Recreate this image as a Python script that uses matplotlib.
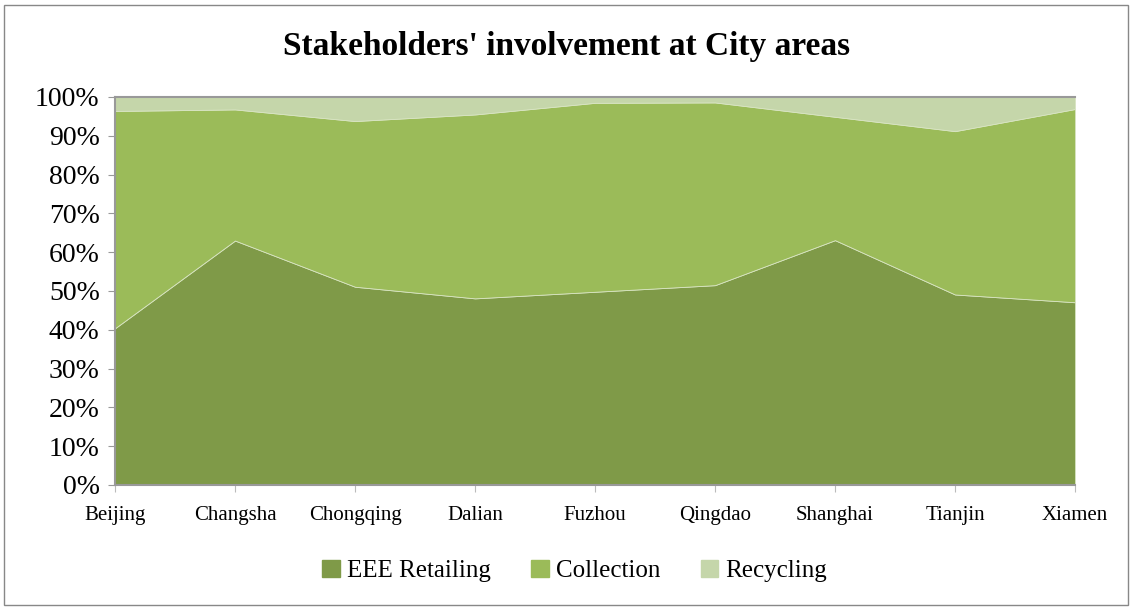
import matplotlib.pyplot as plt
import matplotlib.patches as mpatches
import numpy as np

cities = ['Beijing', 'Changsha', 'Chongqing', 'Dalian', 'Fuzhou',
          'Qingdao', 'Shanghai', 'Tianjin', 'Xiamen']
retailing = [40.4, 63.0, 51.1, 48.1, 49.8, 51.5, 63.1, 49.1, 47.1]
collection_top = [96.4, 96.8, 93.8, 95.5, 98.5, 98.6, 94.9, 91.2, 96.9]
collection = [c - r for c, r in zip(collection_top, retailing)]
recycling = [100 - c for c in collection_top]

colors = ['#7F9A48', '#9BBB59', '#C5D6AA']
labels = ['EEE Retailing', 'Collection', 'Recycling']

fig = plt.figure(figsize=(11.34, 6.09), dpi=100)
ax = fig.add_axes([115 / 1134, 1 - 485 / 609, 960 / 1134, 388 / 609])

x = np.arange(len(cities))
ax.stackplot(x, retailing, collection, recycling, colors=colors,
             edgecolor='#D8E4C2', linewidth=0.6)

ax.set_xlim(0, len(cities) - 1)
ax.set_ylim(0, 100)
ax.set_yticks(range(0, 101, 10))
ax.set_yticklabels([f'{v}%' for v in range(0, 101, 10)],
                   family='Liberation Serif', fontsize=20)
ax.set_xticks(x)
ax.set_xticklabels(cities, family='Liberation Serif', fontsize=15)
ax.tick_params(axis='y', length=5, color='#999999', pad=6)
ax.tick_params(axis='x', length=5, color='#bbbbbb', direction='out', pad=10)
for s in ['left', 'bottom', 'top']:
    ax.spines[s].set_color('#999999')
    ax.spines[s].set_linewidth(1.5)
ax.spines['right'].set_visible(False)

fig.text(0.5, 1 - 47 / 609, "Stakeholders' involvement at City areas",
         ha='center', va='center', family='Liberation Serif',
         fontweight='bold', fontsize=24)

handles = [mpatches.Patch(color=c, label=l) for c, l in zip(colors, labels)]
fig.legend(handles=handles, loc='center', bbox_to_anchor=(0.507, 1 - 571 / 609),
           ncol=3, frameon=False, prop={'family': 'Liberation Serif', 'size': 18},
           handlelength=0.7, handleheight=0.7, handletextpad=0.3, columnspacing=1.6)

border = mpatches.Rectangle((4 / 1134, 4 / 609), 1124 / 1134, 600 / 609,
                            transform=fig.transFigure, fill=False,
                            edgecolor='#888888', linewidth=1)
fig.patches.append(border)

fig.savefig('out.png', dpi=100)
